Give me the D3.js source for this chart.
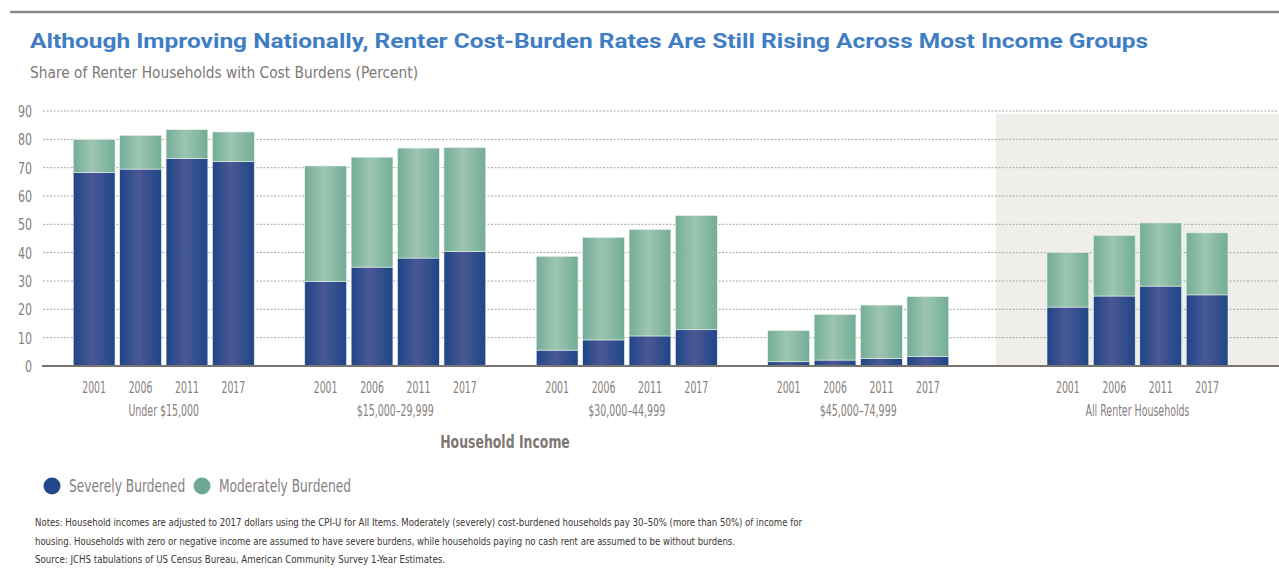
<!DOCTYPE html>
<html>
<head>
<meta charset="utf-8">
<script src="https://cdn.jsdelivr.net/npm/d3@7"></script>
<style>
  body { margin: 0; background: #fff; }
  svg { display: block; }
</style>
</head>
<body>
<div id="chart"></div>
<script>
// chart data
var incomeGroups = ["Under $15,000", "$15,000–29,999", "$30,000–44,999", "$45,000–74,999"];
var allGroup = "All Renter Households";
var years = ["2001", "2006", "2011", "2017"];
var groupOrder = incomeGroups.concat([allGroup]);

// percent of renter households, by group then year
var severe = [
    [68.3, 69.5, 73.3, 72.1],
    [29.9, 34.9, 38.1, 40.4],
    [5.6, 9.2, 10.6, 12.8],
    [1.5, 2.1, 2.7, 3.3],
    [20.8, 24.7, 28.2, 25.1]
];
var moderate = [
    [11.6, 11.9, 10.1, 10.5],
    [40.7, 38.8, 38.8, 36.7],
    [33.1, 36.2, 37.6, 40.3],
    [11.0, 16.1, 18.8, 21.2],
    [19.2, 21.4, 22.3, 21.9]
];
var yTicks = [0, 10, 20, 30, 40, 50, 60, 70, 80, 90];
var seriesNames = ["Severely Burdened", "Moderately Burdened"];

var notes = [
    "Notes: Household incomes are adjusted to 2017 dollars using the CPI-U for All Items. Moderately (severely) cost-burdened households pay 30–50% (more than 50%) of income for",
    "housing. Households with zero or negative income are assumed to have severe burdens, while households paying no cash rent are assumed to be without burdens.",
    "Source: JCHS tabulations of US Census Bureau, American Community Survey 1-Year Estimates."
];

var W = 1279, H = 568;
var narrow = "'Liberation Sans Narrow', 'DejaVu Sans Condensed', sans-serif";
var grayText = "#86807d";

var svg = d3.select("#chart").append("svg")
    .attr("width", W)
    .attr("height", H);

// squeeze text horizontally, the original uses a condensed face
function condense(sel, f) {
    sel.each(function() {
        var w = this.getComputedTextLength();
        d3.select(this)
            .attr("textLength", w * f)
            .attr("lengthAdjust", "spacingAndGlyphs");
    });
}

// gradients for the bar shading
var defs = svg.append("defs");
function addGrad(id, edge, mid) {
    var g = defs.append("linearGradient").attr("id", id)
        .attr("x1", "0%").attr("x2", "100%").attr("y1", "0%").attr("y2", "0%");
    g.append("stop").attr("offset", "0%").attr("stop-color", edge);
    g.append("stop").attr("offset", "45%").attr("stop-color", mid);
    g.append("stop").attr("offset", "100%").attr("stop-color", edge);
}
addGrad("gradSevere", "#1f4688", "#4a5894");
addGrad("gradModerate", "#74ad97", "#9cc5b2");

// top rule
svg.append("line")
    .attr("x1", 10).attr("x2", W)
    .attr("y1", 12).attr("y2", 12)
    .attr("stroke", "#8b8681").attr("stroke-width", 2.5);

// title + subtitle
svg.append("text")
    .attr("x", 30).attr("y", 48)
    .attr("font-family", "Roboto, 'DejaVu Sans', sans-serif")
    .attr("font-weight", 700)
    .attr("font-size", 20)
    .attr("fill", "#3f7ec4")
    .attr("textLength", 1118)
    .attr("lengthAdjust", "spacingAndGlyphs")
    .text("Although Improving Nationally, Renter Cost-Burden Rates Are Still Rising Across Most Income Groups");

svg.append("text")
    .attr("x", 30).attr("y", 78)
    .attr("font-family", narrow)
    .attr("font-size", 15.5)
    .attr("fill", "#7d7876")
    .attr("textLength", 388)
    .attr("lengthAdjust", "spacingAndGlyphs")
    .text("Share of Renter Households with Cost Burdens (Percent)");

// scales
var y = d3.scaleLinear().domain([0, 90]).range([366, 111]);
var xIncome = d3.scaleBand().domain(incomeGroups).range([48, 974]);
var xAll = d3.scaleBand().domain([allGroup]).range([996, 1279]);
var x1 = d3.scaleBand().domain(years).range([-90.5, 90.5]).paddingInner(0.1);

function groupCenter(g) {
    if (g === allGroup) return xAll(g) + xAll.bandwidth() / 2;
    return xIncome(g) + xIncome.bandwidth() / 2;
}

// shaded panel behind all renter households
svg.append("rect")
    .attr("x", xAll.range()[0])
    .attr("y", y(90) + 3)
    .attr("width", xAll.range()[1] - xAll.range()[0])
    .attr("height", y(0) - y(90) - 3)
    .attr("fill", "#efeeeb");

// gridlines
svg.append("g")
    .selectAll("line")
    .data(yTicks.filter(function(d) { return d > 0; }))
    .enter().append("line")
    .attr("x1", 43).attr("x2", W)
    .attr("y1", function(d) { return y(d); })
    .attr("y2", function(d) { return y(d); })
    .attr("stroke", "#a9a5a2")
    .attr("stroke-width", 1)
    .attr("stroke-dasharray", "2,1.5");

// y axis labels
var yAxis = svg.append("g")
    .attr("transform", "translate(32,0)")
    .call(d3.axisLeft(y).tickValues(yTicks).tickSize(0).tickPadding(0));
yAxis.select(".domain").remove();
yAxis.selectAll("text")
    .attr("font-family", narrow)
    .attr("font-size", 15)
    .attr("fill", grayText)
    .attr("dy", "0.36em")
    .call(condense, 0.82);

// stacked data
var rows = [];
groupOrder.forEach(function(g, gi) {
    years.forEach(function(yr, yi) {
        rows.push({ group: g, year: yr, severe: severe[gi][yi], moderate: moderate[gi][yi] });
    });
});
var stacked = d3.stack().keys(["severe", "moderate"])(rows);
var fills = { severe: "url(#gradSevere)", moderate: "url(#gradModerate)" };

svg.append("g")
    .selectAll("g")
    .data(stacked)
    .enter().append("g")
    .attr("fill", function(d) { return fills[d.key]; })
    .selectAll("rect")
    .data(function(d) { return d; })
    .enter().append("rect")
    .attr("x", function(d) { return groupCenter(d.data.group) + x1(d.data.year); })
    .attr("width", x1.bandwidth())
    .attr("y", function(d) { return y(d[1]); })
    .attr("height", function(d) { return y(d[0]) - y(d[1]); })
    .attr("stroke", "#e9f0ec")
    .attr("stroke-width", 0.6);

// baseline
svg.append("line")
    .attr("x1", 42).attr("x2", W)
    .attr("y1", y(0)).attr("y2", y(0))
    .attr("stroke", "#7b736e").attr("stroke-width", 2);

// year labels under each bar
svg.append("g")
    .selectAll("text")
    .data(rows)
    .enter().append("text")
    .attr("x", function(d) { return groupCenter(d.group) + x1(d.year) + x1.bandwidth() / 2; })
    .attr("y", 393)
    .attr("text-anchor", "middle")
    .attr("font-family", narrow)
    .attr("font-size", 15.5)
    .attr("fill", grayText)
    .text(function(d) { return d.year; })
    .call(condense, 0.67);

// group labels
svg.append("g")
    .selectAll("text")
    .data(groupOrder)
    .enter().append("text")
    .attr("x", function(d) { return groupCenter(d); })
    .attr("y", 416)
    .attr("text-anchor", "middle")
    .attr("font-family", narrow)
    .attr("font-size", 15)
    .attr("fill", grayText)
    .text(function(d) { return d; })
    .call(condense, 0.7);

// x axis title
svg.append("text")
    .attr("x", 505).attr("y", 448)
    .attr("text-anchor", "middle")
    .attr("font-family", narrow)
    .attr("font-weight", 700)
    .attr("font-size", 18)
    .attr("fill", "#7f7774")
    .text("Household Income")
    .call(condense, 0.77);

// legend
var legendX = [52, 202];
var legendColors = ["#22478a", "#6ea993"];
var legend = svg.append("g").selectAll("g")
    .data(seriesNames)
    .enter().append("g")
    .attr("transform", function(d, i) { return "translate(" + legendX[i] + ",486)"; });
legend.append("circle")
    .attr("r", 8.5)
    .attr("fill", function(d, i) { return legendColors[i]; });
legend.append("text")
    .attr("x", 17).attr("y", 6)
    .attr("font-family", narrow)
    .attr("font-size", 17)
    .attr("fill", grayText)
    .text(function(d) { return d; })
    .call(condense, 0.8);

// notes
var noteLen = [767, 700, 410];
svg.append("g")
    .selectAll("text")
    .data(notes)
    .enter().append("text")
    .attr("x", 35)
    .attr("y", function(d, i) { return 526 + i * 18.5; })
    .attr("font-family", narrow)
    .attr("font-size", 10.5)
    .attr("fill", "#3b3634")
    .attr("textLength", function(d, i) { return noteLen[i]; })
    .attr("lengthAdjust", "spacingAndGlyphs")
    .text(function(d) { return d; });
</script>
</body>
</html>
